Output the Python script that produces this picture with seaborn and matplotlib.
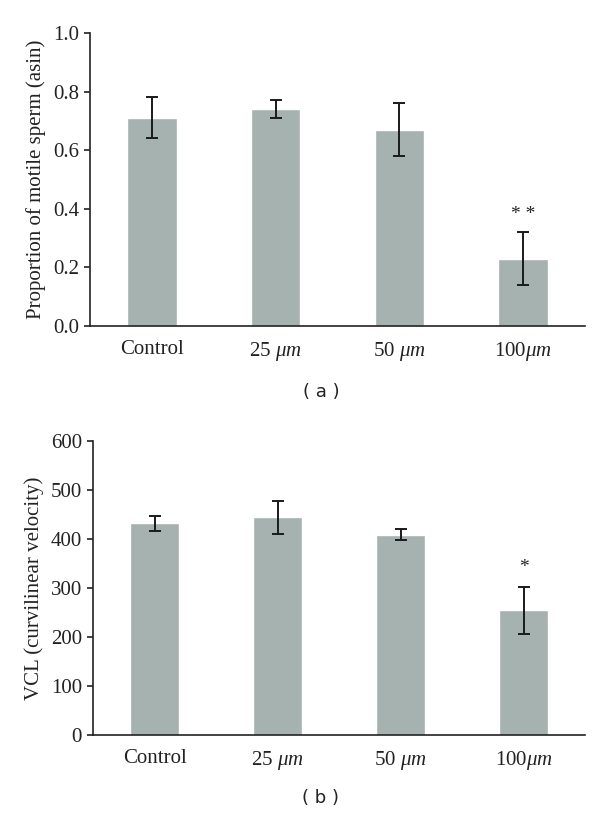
import numpy as np
import pandas as pd
import matplotlib
matplotlib.use("Agg")
import matplotlib.pyplot as plt
import seaborn as sns

categories = ["Control", "25 μm", "50 μm", "100 μm"]
tick_labels = ["Control", r"25 $\mathit{\mu m}$", r"50 $\mathit{\mu m}$", r"100$\mathit{\mu m}$"]

motile_mean = [0.71, 0.74, 0.67, 0.23]
motile_err = [0.07, 0.03, 0.09, 0.09]
motile_sig = ["", "", "", "* *"]

vcl_mean = [432, 444, 409, 255]
vcl_err = [15, 33, 12, 48]
vcl_sig = ["", "", "", "*"]

sns.set_theme(style="ticks")
plt.rcParams["font.family"] = ["Liberation Serif", "DejaVu Serif"]
plt.rcParams["mathtext.fontset"] = "custom"
plt.rcParams["mathtext.rm"] = "Liberation Serif"
plt.rcParams["mathtext.it"] = "Liberation Serif:italic"

bar_color = "#a5b2b0"
FS = 15

fig = plt.figure(figsize=(6.0, 8.18), dpi=100)
ax1 = fig.add_axes([0.150, 0.6015, 0.825, 0.3582])
ax2 = fig.add_axes([0.155, 0.1015, 0.820, 0.3594])


def draw(ax, means, errs, sigs, ylabel, ylim, yticks, fmt, sig_offset):
    df = pd.DataFrame({"group": categories, "value": means})
    sns.barplot(data=df, x="group", y="value", ax=ax, color=bar_color,
                width=0.4, saturation=1, errorbar=None)
    x = np.arange(len(categories))
    ax.errorbar(x, means, yerr=errs, fmt="none", ecolor="#1a1a1a",
                elinewidth=1.4, capsize=4, capthick=1.4)
    for xi, m, e, s in zip(x, means, errs, sigs):
        if s:
            ax.text(xi, m + e + sig_offset, s, ha="center", va="bottom",
                    fontsize=14, color="#222222")
    ax.set_ylim(*ylim)
    ax.set_xlim(-0.5, len(categories) - 0.5)
    ax.set_yticks(yticks)
    ax.set_yticklabels([fmt.format(v) for v in yticks])
    ax.set_xticks(x)
    ax.set_xticklabels(tick_labels)
    ax.set_xlabel("")
    ax.set_ylabel(ylabel, fontsize=FS, color="#222222", labelpad=5)
    sns.despine(ax=ax)
    ax.spines["left"].set_color("#222222")
    ax.spines["bottom"].set_color("#222222")
    ax.spines["left"].set_linewidth(1.2)
    ax.spines["bottom"].set_linewidth(1.2)
    ax.tick_params(axis="y", direction="out", length=4, width=1.2,
                   labelsize=FS, colors="#222222", pad=4)
    ax.tick_params(axis="x", length=0, labelsize=FS, colors="#222222", pad=10)


draw(ax1, motile_mean, motile_err, motile_sig,
     "Proportion of motile sperm (asin)", (0, 1.0),
     [0.0, 0.2, 0.4, 0.6, 0.8, 1.0], "{:.1f}", 0.03)
draw(ax2, vcl_mean, vcl_err, vcl_sig,
     "VCL (curvilinear velocity)", (0, 600),
     [0, 100, 200, 300, 400, 500, 600], "{:d}", 22)

fig.text(0.535, 1 - 392 / 818, "( a )", ha="center", va="center",
         fontsize=13, family=["DejaVu Sans"], color="#222222")
fig.text(0.535, 1 - 798 / 818, "( b )", ha="center", va="center",
         fontsize=13, family=["DejaVu Sans"], color="#222222")

fig.savefig("out.png", dpi=100, facecolor="white")
